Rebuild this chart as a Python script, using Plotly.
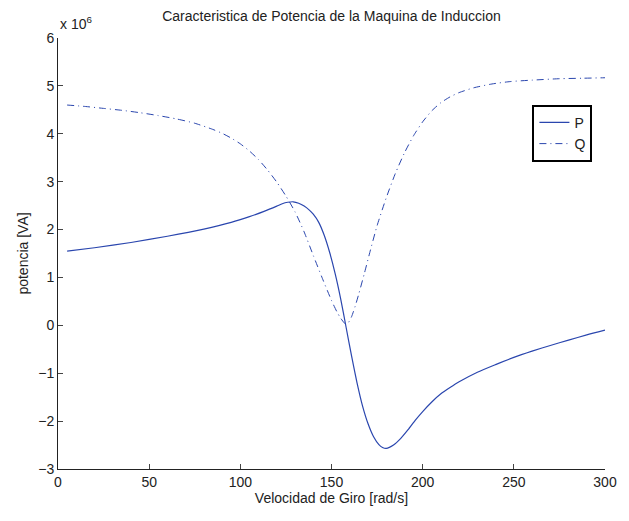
import plotly.graph_objects as go

# Velocidad de giro [rad/s] and potencia activa P [x 1e6 VA]
speed_P = [5, 20, 40, 60, 80, 95, 105, 113, 120, 123, 126, 129, 132, 135, 138, 140,
           143, 146, 149, 152, 155, 158, 161, 164, 167, 170, 173, 176, 178, 180, 184,
           188, 192, 196, 200, 205, 210, 215, 220, 230, 240, 250, 260, 270, 280, 290, 300]
P = [1.55, 1.62, 1.73, 1.86, 2.01, 2.15, 2.27, 2.38, 2.49, 2.54, 2.57, 2.58, 2.55,
     2.49, 2.40, 2.32, 2.15, 1.88, 1.52, 1.08, 0.56, -0.04, -0.64, -1.20, -1.68, -2.05,
     -2.32, -2.49, -2.55, -2.57, -2.50, -2.36, -2.18, -1.98, -1.80, -1.60, -1.43,
     -1.30, -1.18, -0.98, -0.82, -0.67, -0.54, -0.42, -0.31, -0.20, -0.10]

# Velocidad de giro [rad/s] and potencia reactiva Q [x 1e6 VA]
speed_Q = [5, 15, 25, 35, 45, 55, 65, 75, 85, 90, 95, 100, 105, 110, 115, 120, 125,
           130, 135, 140, 145, 150, 153, 155, 157, 158, 159, 161, 163, 165, 168, 171,
           175, 180, 185, 190, 195, 200, 205, 210, 215, 220, 228, 238, 248, 260, 275,
           288, 300]
Q = [4.60, 4.57, 4.53, 4.49, 4.44, 4.38, 4.31, 4.22, 4.09, 4.01, 3.91, 3.79, 3.64,
     3.46, 3.24, 2.99, 2.70, 2.37, 1.95, 1.46, 0.98, 0.52, 0.28, 0.15, 0.05, 0.02,
     0.04, 0.18, 0.40, 0.66, 1.08, 1.52, 2.08, 2.66, 3.17, 3.60, 3.96, 4.25, 4.48,
     4.65, 4.77, 4.86, 4.96, 5.04, 5.09, 5.12, 5.15, 5.16, 5.17]

x_ticks = [0, 50, 100, 150, 200, 250, 300]
y_ticks = [-3, -2, -1, 0, 1, 2, 3, 4, 5, 6]
y_ticktext = [("\u2212" + str(-v)) if v < 0 else str(v) for v in y_ticks]

line_color = "#2a46ae"
font_family = "Liberation Sans, Arial, sans-serif"

fig = go.Figure()
fig.add_trace(go.Scatter(x=speed_P, y=P, mode="lines", name="P",
                         line=dict(color=line_color, width=1.2, shape="spline", smoothing=0.6)))
fig.add_trace(go.Scatter(x=speed_Q, y=Q, mode="lines", name="Q",
                         line=dict(color=line_color, width=1.0, shape="spline", smoothing=0.6,
                                   dash="7px,4px,1px,4px")))

fig.update_layout(
    width=629, height=521,
    margin=dict(l=58, r=16, t=38, b=52),
    paper_bgcolor="white", plot_bgcolor="white",
    font=dict(family=font_family, size=14, color="#222222"),
    title=dict(text="Caracteristica de Potencia de la Maquina de Induccion",
               x=0.5, xref="paper", xanchor="center", y=0.97, yanchor="middle",
               font=dict(size=14, color="#222222")),
    showlegend=True,
    legend=dict(x=0.977, y=0.845, xanchor="right", yanchor="top",
                bordercolor="black", borderwidth=2, bgcolor="white",
                font=dict(size=14), tracegroupgap=0),
    xaxis=dict(range=[0, 300], tickvals=x_ticks, ticks="inside", ticklen=5,
               showline=True, linecolor="#222222", linewidth=1, mirror=False,
               showgrid=False, zeroline=False, tickfont=dict(size=14),
               title=dict(text="Velocidad de Giro [rad/s]", font=dict(size=14), standoff=4)),
    yaxis=dict(range=[-3, 6], tickvals=y_ticks, ticktext=y_ticktext, ticks="inside", ticklen=5,
               showline=True, linecolor="#222222", linewidth=1, mirror=False,
               showgrid=False, zeroline=False, tickfont=dict(size=14),
               title=dict(text="potencia [VA]", font=dict(size=14), standoff=6)),
)
fig.add_annotation(text="x 10<sup>6</sup>", xref="paper", yref="paper", x=0.0, y=1.0,
                   xanchor="left", yanchor="bottom", showarrow=False,
                   font=dict(size=14, color="#222222"), yshift=4)

fig.write_html("out.html")
